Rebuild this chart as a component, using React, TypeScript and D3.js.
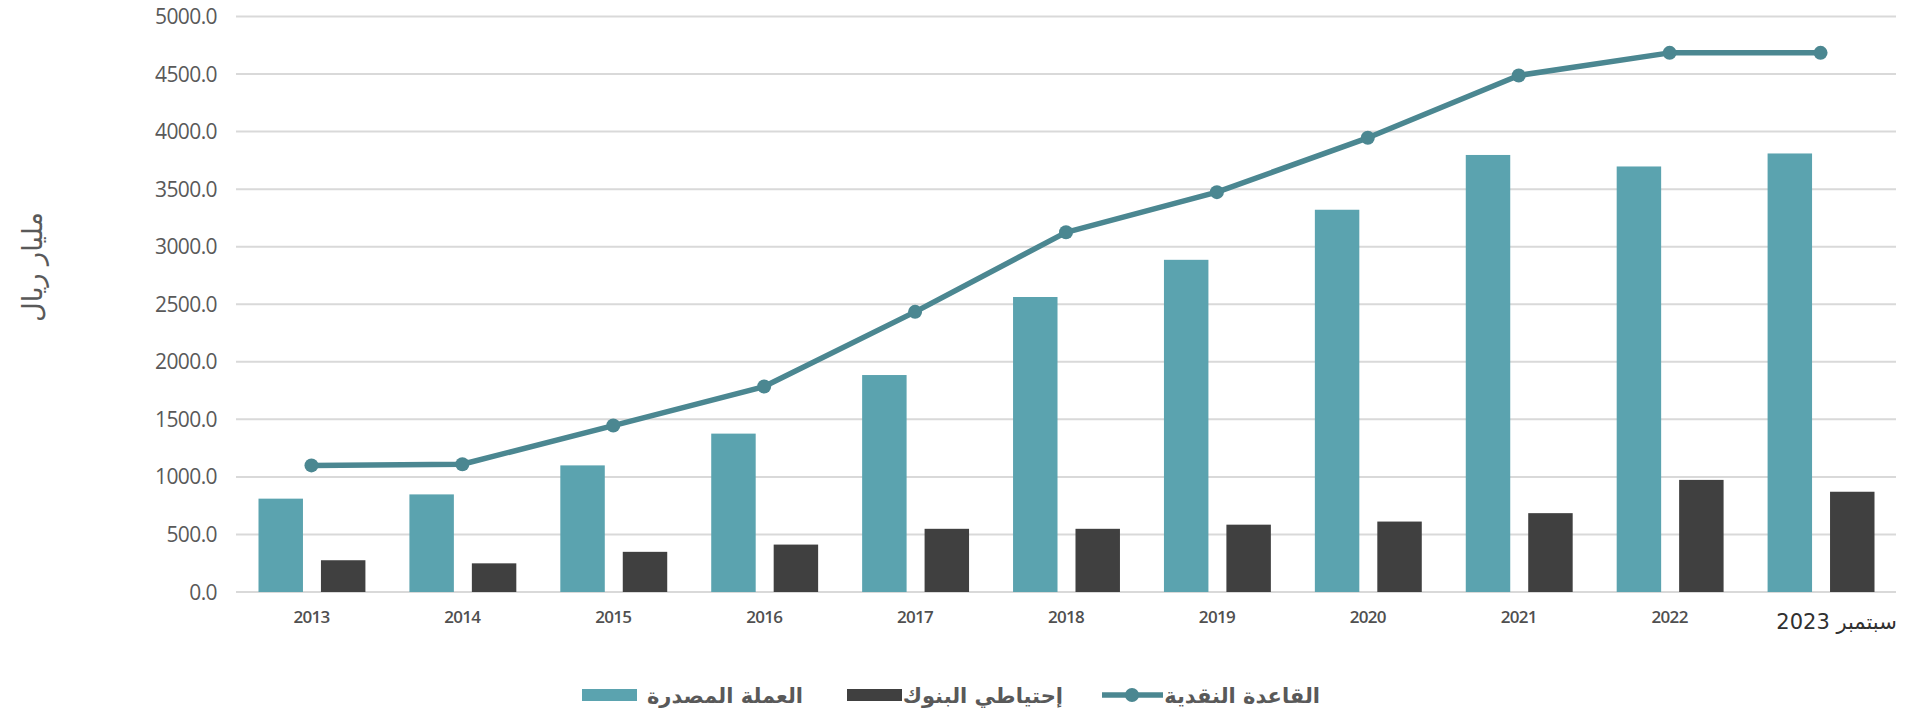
import React from "react";
import * as d3 from "d3";

const categories = ["2013", "2014", "2015", "2016", "2017", "2018", "2019", "2020", "2021", "2022", "سبتمبر 2023"];
const currencyIssued = [811, 848, 1100, 1376, 1885, 2563, 2886, 3321, 3797, 3697, 3810];
const bankReserves = [276, 249, 349, 412, 549, 549, 585, 612, 685, 974, 871];
const monetaryBase = [1100, 1110, 1446, 1785, 2434, 3125, 3474, 3946, 4488, 4684, 4684];
const yTicks = [0, 500, 1000, 1500, 2000, 2500, 3000, 3500, 4000, 4500, 5000];
const seriesNames = ["العملة المصدرة", "إحتياطي البنوك", "القاعدة النقدية"];
const yAxisTitle = "مليار ريال";

const W = 1914;
const H = 713;
const TEAL = "#5ba3af";
const DARK = "#404040";
const LINE = "#4b8791";
const GRID = "#d9d9d9";
const TEXT = "#595959";

export default function App() {
  const x = d3.scaleBand<string>().domain(categories).range([236, 1896]).paddingInner(0).paddingOuter(0);
  const bw = x.bandwidth();
  const sub = d3.scaleBand<string>().domain(["a", "b"]).range([22.5, bw - 21.5]).paddingInner(0.288).paddingOuter(0);
  const y = d3.scaleLinear().domain([0, 5000]).range([592, 16.5]);

  const line = d3
    .line<number>()
    .x((_, i) => (x(categories[i]) as number) + bw / 2)
    .y((d) => y(d));

  const lineFont = "'Open Sans', 'DejaVu Sans', sans-serif";
  const arFont = "'DejaVu Sans', sans-serif";

  return (
    <svg
      width={W}
      height={H}
      style={{ position: "absolute", left: 0, top: 0, display: "block", background: "#fff" }}
    >
      {/* gridlines */}
      {yTicks.map((t) => (
        <line key={"g" + t} x1={236} x2={1896} y1={y(t)} y2={y(t)} stroke={GRID} strokeWidth={2} />
      ))}
      {/* y tick labels */}
      {yTicks.map((t) => (
        <text
          key={"yl" + t}
          x={217}
          y={y(t)}
          dy="0.36em"
          textAnchor="end"
          fontFamily={lineFont}
          fontSize={21}
          letterSpacing={-0.6}
          fill={TEXT}
        >
          {t.toFixed(1)}
        </text>
      ))}
      {/* y axis title */}
      <text
        transform={`translate(32,267) rotate(-90)`}
        textAnchor="middle"
        dominantBaseline="central"
        fontFamily={arFont}
        fontSize={27}
        fill={TEXT}
        direction="rtl"
      >
        {yAxisTitle}
      </text>
      {/* bars */}
      {categories.map((c, i) => {
        const x0 = x(c) as number;
        return (
          <g key={"b" + c}>
            <rect
              x={x0 + (sub("a") as number)}
              y={y(currencyIssued[i])}
              width={sub.bandwidth()}
              height={y(0) - y(currencyIssued[i])}
              fill={TEAL}
            />
            <rect
              x={x0 + (sub("b") as number)}
              y={y(bankReserves[i])}
              width={sub.bandwidth()}
              height={y(0) - y(bankReserves[i])}
              fill={DARK}
            />
          </g>
        );
      })}
      {/* line */}
      <path d={line(monetaryBase) || ""} fill="none" stroke={LINE} strokeWidth={5.5} strokeLinejoin="round" />
      {monetaryBase.map((v, i) => (
        <circle key={"m" + i} cx={(x(categories[i]) as number) + bw / 2} cy={y(v)} r={7} fill={LINE} />
      ))}
      {/* x labels */}
      {categories.map((c, i) => {
        const cx = (x(c) as number) + bw / 2;
        const last = i === categories.length - 1;
        return (
          <text
            key={"xl" + c}
            x={last ? cx + 16 : cx}
            y={last ? 629 : 623}
            textAnchor="middle"
            fontFamily={last ? arFont : lineFont}
            fontSize={last ? 21 : 17}
            letterSpacing={last ? 0 : -0.7}
            fontWeight={last ? 400 : 600}
            fill={last ? "#303030" : "#505050"}
            direction={last ? "rtl" : "ltr"}
          >
            {c}
          </text>
        );
      })}
      {/* legend */}
      <g>
        <rect x={582} y={689} width={55} height={12} fill={TEAL} />
        <text x={803} y={703} textAnchor="end" fontFamily={arFont} fontSize={21} fontWeight={700} fill={TEXT}>
          {seriesNames[0]}
        </text>
        <rect x={847} y={689} width={55} height={12} fill={DARK} />
        <text x={1063} y={703} textAnchor="end" fontFamily={arFont} fontSize={21} fontWeight={700} fill={TEXT}>
          {seriesNames[1]}
        </text>
        <line x1={1102} x2={1163} y1={695} y2={695} stroke={LINE} strokeWidth={5.5} />
        <circle cx={1132} cy={695} r={7} fill={LINE} />
        <text x={1320} y={703} textAnchor="end" fontFamily={arFont} fontSize={21} fontWeight={700} fill={TEXT}>
          {seriesNames[2]}
        </text>
      </g>
    </svg>
  );
}
